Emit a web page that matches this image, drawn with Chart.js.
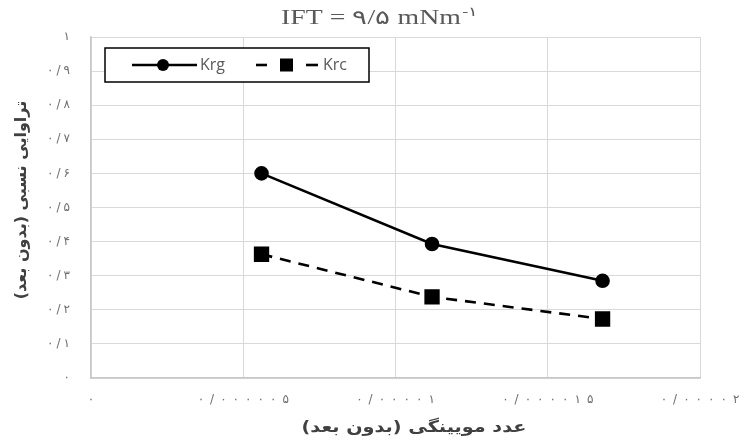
<!DOCTYPE html>
<html>
<head>
<meta charset="utf-8">
<script src="https://cdn.jsdelivr.net/npm/chart.js@4/dist/chart.umd.min.js"></script>
<style>
html,body{margin:0;padding:0;background:#fff;}
#wrap{width:742px;height:443px;position:relative;}
</style>
</head>
<body>
<div id="wrap"><canvas id="c" width="742" height="443"></canvas></div>
<script>
// ---- data ----
const capillaryNumbers = [0.0000056, 0.0000112, 0.0000168];
const krgValues = [0.600, 0.393, 0.285];
const krcValues = [0.363, 0.238, 0.173];
const seriesNames = ['Krg', 'Krc'];
const xTickLabels = ['۰', '۰/۰۰۰۰۰۵', '۰/۰۰۰۰۱', '۰/۰۰۰۰۱۵', '۰/۰۰۰۰۲'];
const yTickLabels = ['۰', '۰/۱', '۰/۲', '۰/۳', '۰/۴', '۰/۵', '۰/۶', '۰/۷', '۰/۸', '۰/۹', '۱'];
const chartTitleMain = 'IFT = ۹/۵ mNm';
const chartTitleSup = '-۱';
const xAxisTitle = '\u200Fعدد مویینگی (بدون بعد)\u200F';
const yAxisTitle = '\u200Fتراوایی نسبی (بدون بعد)\u200F';

const gridColor = '#d9d9d9';
const tickColor = '#6e6e6e';

const toPts = (xs, ys) => xs.map((x, i) => ({x: x, y: ys[i]}));

// draws tick labels with extra space between glyphs (as in the reference)
const spacingPlugin = {
  id: 'spacing',
  afterLayout(chart) {
    const conf = {x: 6, y: 3};
    Object.keys(conf).forEach(id => {
      const s = chart.scales[id];
      if (s && !s._lsPatched) {
        const orig = s.drawLabels.bind(s);
        s.drawLabels = function (ca) {
          const c = this.ctx;
          const sp = conf[id];
          const origFill = c.fillText;
          c.fillText = function (text, x, y) {
            const chars = Array.from(String(text));
            const widths = chars.map(ch => c.measureText(ch).width);
            const total = widths.reduce((a, b) => a + b, 0) + sp * (chars.length - 1);
            const align = c.textAlign;
            let sx = x;
            if (align === 'center') sx = x - total / 2;
            else if (align === 'right' || align === 'end') sx = x - total;
            c.textAlign = 'left';
            chars.forEach((ch, i) => {
              origFill.call(c, ch, sx, y);
              sx += widths[i] + sp;
            });
            c.textAlign = align;
          };
          try { orig(ca); } finally { c.fillText = origFill; }
        };
        s._lsPatched = true;
      }
    });
  }
};

const decorPlugin = {
  id: 'decor',
  afterDraw(chart) {
    const ctx = chart.ctx;
    const ca = chart.chartArea;
    ctx.save();
    // title (stretched horizontally like the reference)
    ctx.fillStyle = '#595959';
    ctx.textBaseline = 'alphabetic';
    ctx.textAlign = 'left';
    ctx.font = '20px "Liberation Serif"';
    const mainW = ctx.measureText(chartTitleMain).width;
    ctx.font = '13px "Liberation Serif"';
    const supW = ctx.measureText(chartTitleSup).width;
    const targetW = 197;
    const sx = targetW / (mainW + supW + 1);
    ctx.save();
    ctx.translate(281, 24);
    ctx.scale(sx, 1);
    ctx.font = '20px "Liberation Serif"';
    ctx.fillText(chartTitleMain, 0, 0);
    ctx.font = '13px "Liberation Serif"';
    ctx.fillText(chartTitleSup, mainW + 1, -8);
    ctx.restore();

    // axis titles
    ctx.fillStyle = '#404040';
    ctx.font = 'bold 16px "DejaVu Sans"';
    ctx.textAlign = 'center';
    ctx.textBaseline = 'middle';
    ctx.direction = 'rtl';
    ctx.save();
    ctx.translate(414, 428);
    ctx.scale(1.2, 1);
    ctx.fillText(xAxisTitle, 0, 0);
    ctx.restore();
    ctx.save();
    ctx.translate(22, 200);
    ctx.rotate(-Math.PI / 2);
    ctx.fillText(yAxisTitle, 0, 0);
    ctx.restore();
    ctx.direction = 'ltr';

    // legend
    const bx = ca.left + 14, by = ca.top + 11, bw = 264, bh = 34;
    ctx.fillStyle = '#ffffff';
    ctx.fillRect(bx, by, bw, bh);
    ctx.strokeStyle = '#000';
    ctx.lineWidth = 1.5;
    ctx.strokeRect(bx, by, bw, bh);
    const cy = by + bh / 2;
    const ds = chart.data.datasets;
    // Krg
    ctx.strokeStyle = ds[0].borderColor;
    ctx.lineWidth = ds[0].borderWidth;
    ctx.setLineDash([]);
    ctx.beginPath(); ctx.moveTo(bx + 27, cy); ctx.lineTo(bx + 92, cy); ctx.stroke();
    ctx.fillStyle = ds[0].pointBackgroundColor;
    ctx.beginPath(); ctx.arc(bx + 58, cy, 6, 0, Math.PI * 2); ctx.fill();
    // Krc
    ctx.strokeStyle = ds[1].borderColor;
    ctx.lineWidth = ds[1].borderWidth;
    ctx.beginPath(); ctx.moveTo(bx + 151, cy); ctx.lineTo(bx + 162, cy); ctx.stroke();
    ctx.beginPath(); ctx.moveTo(bx + 201, cy); ctx.lineTo(bx + 213, cy); ctx.stroke();
    ctx.fillStyle = ds[1].pointBackgroundColor;
    ctx.fillRect(bx + 175, cy - 6.5, 13, 13);
    // texts
    ctx.fillStyle = '#595959';
    ctx.font = '16px "Open Sans"';
    ctx.textAlign = 'left';
    ctx.textBaseline = 'middle';
    ctx.fillText(seriesNames[0], bx + 95, cy);
    ctx.fillText(seriesNames[1], bx + 218, cy);
    ctx.restore();
  }
};

new Chart(document.getElementById('c'), {
  type: 'scatter',
  data: {
    datasets: [
      {
        label: seriesNames[0],
        data: toPts(capillaryNumbers, krgValues),
        showLine: true,
        borderColor: '#000',
        backgroundColor: '#000',
        pointBackgroundColor: '#000',
        pointBorderColor: '#000',
        borderWidth: 2.6,
        pointStyle: 'circle',
        pointRadius: 6,
        pointHoverRadius: 6
      },
      {
        label: seriesNames[1],
        data: toPts(capillaryNumbers, krcValues),
        showLine: true,
        borderColor: '#000',
        backgroundColor: '#000',
        pointBackgroundColor: '#000',
        pointBorderColor: '#000',
        borderWidth: 2.6,
        borderDash: [11, 8],
        pointStyle: 'rect',
        pointRadius: 9,
        pointHoverRadius: 9
      }
    ]
  },
  options: {
    responsive: false,
    animation: false,
    devicePixelRatio: 1,
    layout: {padding: {left: 0, right: 42, top: 37, bottom: 0}},
    plugins: {legend: {display: false}, tooltip: {enabled: false}, title: {display: false}},
    scales: {
      x: {
        type: 'linear',
        min: 0, max: 0.00002,
        ticks: {
          stepSize: 0.000005,
          color: tickColor,
          font: {family: '"DejaVu Sans"', size: 12},
          padding: 15,
          maxRotation: 0,
          autoSkip: false,
          callback: (v, i) => xTickLabels[i]
        },
        grid: {color: gridColor, lineWidth: 1, drawTicks: false},
        border: {color: '#c8c8c8', width: 1.5},
        afterFit: s => { s.height = 65; }
      },
      y: {
        type: 'linear',
        min: 0, max: 1,
        ticks: {
          stepSize: 0.1,
          color: tickColor,
          font: {family: '"DejaVu Sans"', size: 12},
          padding: 21,
          autoSkip: false,
          callback: (v, i) => yTickLabels[i]
        },
        grid: {color: gridColor, lineWidth: 1, drawTicks: false},
        border: {color: '#c8c8c8', width: 1.5},
        afterFit: s => { s.width = 91; }
      }
    }
  },
  plugins: [spacingPlugin, decorPlugin]
});
</script>
</body>
</html>
